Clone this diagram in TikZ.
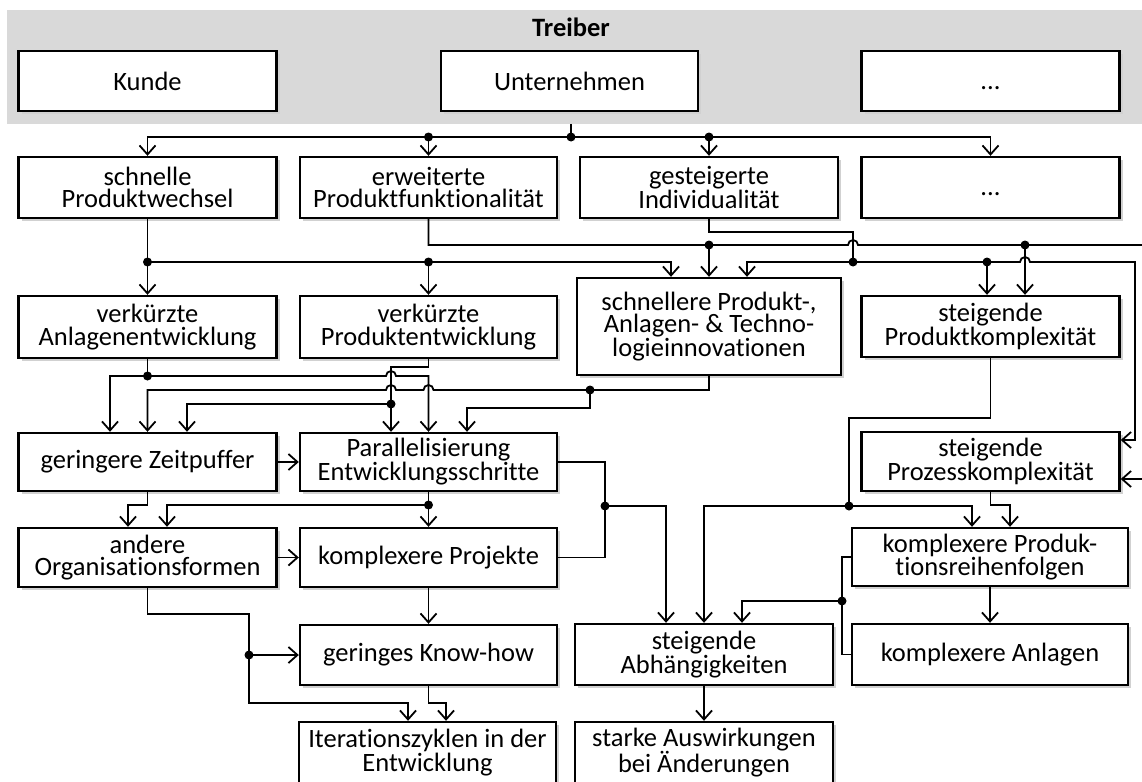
\documentclass[tikz,border=0pt]{standalone}
\usepackage{fontspec}
\setmainfont{Carlito}[Ligatures=NoCommon]
\usetikzlibrary{arrows.meta,shadows}

\tikzset{
  box/.style={draw, fill=white, line width=2.4pt, minimum width=258pt, minimum height=61pt,
    inner sep=0pt, align=center, font=\fontsize{26.5}{22.5}\selectfont,
    drop shadow={shadow xshift=3pt,shadow yshift=-3pt,fill=black!18,opacity=1}},
  conn/.style={line width=1.8pt},
  arr/.style={conn, -{Straight Barb[length=9pt,width=16pt]}},
  junc/.style={fill=black}
}

\begin{document}
\begin{tikzpicture}[x=1pt,y=-1pt]
\useasboundingbox (0,0) rectangle (1142,781);
% Treiber
\fill[black!15] (7,10) rectangle (1150,124);
\node[font=\fontsize{26.5}{22.5}\selectfont\bfseries] (treiber) at (571,27) {Treiber};
\node[box,minimum height=60pt] (kunde) at (147.5,81) {Kunde};
\node[box,minimum width=257pt,minimum height=60pt] (untern) at (569.5,81) {Unternehmen};
\node[box,minimum height=60pt] (dotsA) at (990.5,81) {\vphantom{K}...};
% row 2
\node[box] (wechsel) at (147.5,187.5) {schnelle\\Produktwechsel};
\node[box,minimum width=257pt] (funkt) at (428.5,187.5) {erweiterte\\Produktfunktionalität};
\node[box] (indiv) at (709,187.5) {gesteigerte\\Individualität};
\node[box] (dotsB) at (990.5,187.5) {\vphantom{K}...};
% row 3
\node[box,minimum height=62pt] (anlEntw) at (147.5,327) {verkürzte\\Anlagenentwicklung};
\node[box,minimum width=257pt,minimum height=62pt] (prodEntw) at (428.5,327) {verkürzte\\Produktentwicklung};
\node[box,minimum width=264pt,minimum height=97pt] (innov) at (709,326.5) {schnellere Produkt-,\\Anlagen- \& Techno-\\logieinnovationen};
\node[box] (prodKompl) at (990.5,326.5) {steigende\\Produktkomplexität};
% row 4
\node[box,minimum height=58pt] (zeitp) at (147.5,462) {geringere Zeitpuffer};
\node[box,minimum width=257pt,minimum height=58pt] (parall) at (428.5,462) {Parallelisierung\\Entwicklungsschritte};
\node[box,minimum height=59pt] (prozKompl) at (990.5,461.5) {steigende\\Prozesskomplexität};
% row 5
\node[box,minimum height=59pt] (orgForm) at (147.5,557.5) {andere\\Organisationsformen};
\node[box,minimum width=257pt,minimum height=59pt] (projekte) at (428.5,557.5) {komplexere Projekte};
\node[box,minimum width=276pt,minimum height=58pt] (prodFolge) at (990,557) {komplexere Produk-\\tionsreihenfolgen};
% row 6
\node[box,minimum width=257pt,minimum height=60pt] (knowhow) at (428.5,655) {geringes Know-how};
\node[box] (abhaeng) at (704,654.5) {steigende\\Abhängigkeiten};
\node[box,minimum width=276pt] (anlagen) at (990,654.5) {komplexere Anlagen};
% row 7
\node[box,minimum width=257pt] (iter) at (427.5,752.5) {Iterationszyklen in der\\Entwicklung};
\node[box] (auswirk) at (704,752.5) {starke Auswirkungen\\bei Änderungen};

% Treiber -> row 2
\coordinate (tb) at (571,124);
\coordinate (t1) at (571,137);
\draw[conn] (tb) -- (t1);
\draw[arr] (t1) -| (wechsel.north);
\draw[arr] (t1) -| (dotsB.north);
\draw[arr] (funkt.north |- t1) -- (funkt.north);
\draw[arr] (indiv.north |- t1) -- (indiv.north);
\fill[junc] (t1) circle[radius=4.5pt];
\fill[junc] (funkt.north |- t1) circle[radius=4.5pt];
\fill[junc] (indiv.north |- t1) circle[radius=4.5pt];

% row 2 -> row 3
\draw[arr] (funkt.south) |- (848,245) arc[start angle=180,end angle=0,radius=5pt] -- (1144,245) |- ([yshift=-17.5pt]prozKompl.east);
\draw[arr] (709,245) -- (innov.north);
\draw[arr] (1025,245) -- ([xshift=34.5pt]prodKompl.north);
\fill[junc] (709,245) circle[radius=4.5pt];
\fill[junc] (1025,245) circle[radius=4.5pt];

\draw[conn] (indiv.south) |- (853,232) -- (853,262);
\draw[arr] (853,262) -| ([xshift=38pt]innov.north);
\draw[arr] (853,262) -- (1020,262) arc[start angle=180,end angle=0,radius=5pt] -- (1135,262) |- ([yshift=21.5pt]prozKompl.east);
\draw[arr] (987,262) -- ([xshift=-3.5pt]prodKompl.north);
\fill[junc] (853,262) circle[radius=4.5pt];
\fill[junc] (987,262) circle[radius=4.5pt];

\coordinate (w1) at (147.5,262);
\draw[arr] (wechsel.south) -- (anlEntw.north);
\draw[arr] (w1) -| ([xshift=-38pt]innov.north);
\draw[arr] (prodEntw.north |- w1) -- (prodEntw.north);
\fill[junc] (w1) circle[radius=4.5pt];
\fill[junc] (prodEntw.north |- w1) circle[radius=4.5pt];

% row 3 -> row 4
\coordinate (a1) at (147.5,376);
\draw[conn] (anlEntw.south) -- (a1);
\draw[arr] (a1) -| ([xshift=-37.5pt]zeitp.north);
\draw[arr] (a1) -- (386,376) arc[start angle=180,end angle=0,radius=5pt] -- (428.5,376) -- (parall.north);
\fill[junc] (a1) circle[radius=4.5pt];

\draw[arr] (prodEntw.south) |- (391,367) -- ([xshift=-37.5pt]parall.north);
\draw[arr] (391,404) -| ([xshift=39.5pt]zeitp.north);
\fill[junc] (391,404) circle[radius=4.5pt];

\draw[arr] (innov.south) |- (433.5,390) arc[start angle=0,end angle=180,radius=5pt] -- (396,390) arc[start angle=0,end angle=180,radius=5pt] -- (147.5,390) -- (zeitp.north);
\draw[arr] (590,390) |- (467,408) -- ([xshift=38.5pt]parall.north);
\fill[junc] (590,390) circle[radius=4.5pt];

% row 4 -> row 5
\draw[arr] (zeitp.east) -- (parall.west);
\draw[arr] (zeitp.south) |- (128,505) -- ([xshift=-19.5pt]orgForm.north);
\coordinate (p1) at (428.5,505);
\draw[arr] (parall.south) -- (projekte.north);
\draw[arr] (p1) -| ([xshift=19.5pt]orgForm.north);
\fill[junc] (p1) circle[radius=4.5pt];

\coordinate (p2) at (605,506);
\draw[conn] (parall.east) -| (p2) |- (projekte.east);
\draw[arr] (p2) -| ([xshift=-38pt]abhaeng.north);
\fill[junc] (p2) circle[radius=4.5pt];

\draw[arr] (orgForm.east) -- (projekte.west);
\draw[arr] (projekte.south) -- (knowhow.north);

% row 5 -> row 7
\draw[arr] (orgForm.south) |- (249,614) |- (408,703) -- ([xshift=-19.5pt]iter.north);
\draw[arr] (249,655) -- (knowhow.west);
\fill[junc] (249,655) circle[radius=4.5pt];
\draw[arr] (knowhow.south) |- (446,703) -- ([xshift=18.5pt]iter.north);

% right column
\coordinate (k1) at (849,506);
\draw[conn] (prodKompl.south) |- (849,418) -- (k1);
\draw[arr] (k1) -| (abhaeng.north);
\draw[arr] (k1) -| ([xshift=-18pt]prodFolge.north);
\fill[junc] (k1) circle[radius=4.5pt];

\draw[arr] (prozKompl.south) |- (1010,505) -- ([xshift=20pt]prodFolge.north);

\coordinate (r1) at (842,601);
\draw[conn] (prodFolge.west) -| (r1) |- (anlagen.west);
\draw[arr] (r1) -| ([xshift=38pt]abhaeng.north);
\fill[junc] (r1) circle[radius=4.5pt];
\draw[arr] (prodFolge.south) -- (anlagen.north);
\draw[arr] (abhaeng.south) -- (auswirk.north);
\end{tikzpicture}
\end{document}
